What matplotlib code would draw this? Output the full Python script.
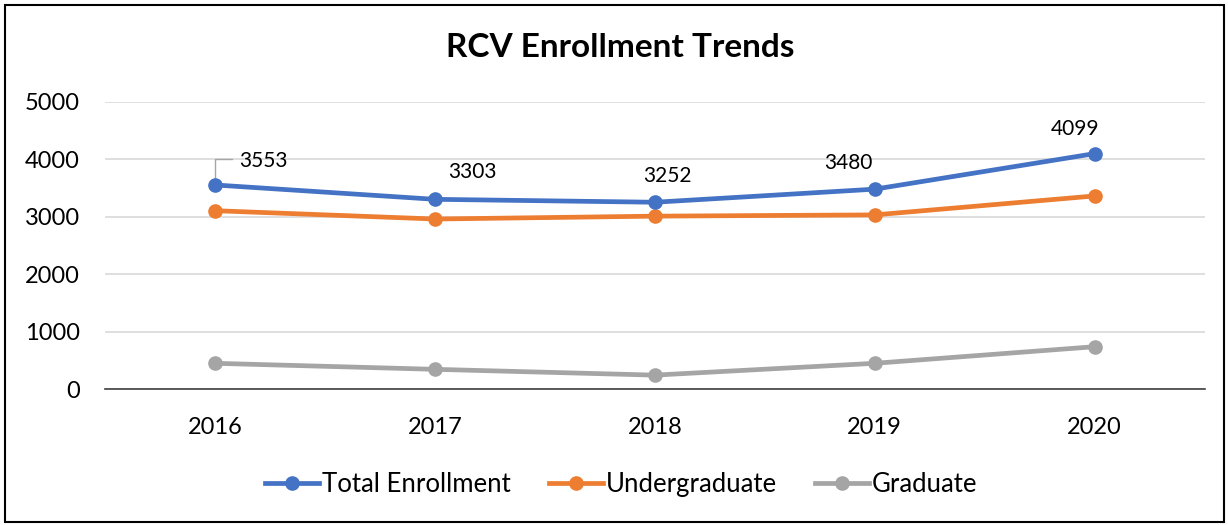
import matplotlib.pyplot as plt
from matplotlib.patches import Rectangle

# data
years = ["2016", "2017", "2018", "2019", "2020"]
total = [3553, 3303, 3252, 3480, 4099]
undergrad = [3105, 2960, 3010, 3032, 3362]
graduate = [448, 343, 242, 448, 737]

# label offsets (points) for the total enrollment labels
label_dx = [35, 27, 9, -19, -14]
label_dy = [17, 20, 19, 19, 18]

plt.rcParams['font.family'] = ['Lato', 'DejaVu Sans']

fig = plt.figure(figsize=(12.28, 5.25), dpi=100)
ax = fig.add_axes([0.0855, 0.259, 0.8955, 0.547])

x = range(len(years))
ax.plot(x, total, color='#4472C4', lw=3.4, marker='o', ms=9.5, label='Total Enrollment', zorder=4)
ax.plot(x, undergrad, color='#ED7D31', lw=3.4, marker='o', ms=9.5, label='Undergraduate', zorder=3)
ax.plot(x, graduate, color='#A5A5A5', lw=3.4, marker='o', ms=9.5, label='Graduate', zorder=3)

for i, v in enumerate(total):
    ax.annotate(str(v), (i, v), xytext=(label_dx[i], label_dy[i]), textcoords='offset points',
                ha='center', va='center', fontsize=15)
# leader line for the first label
ax.annotate('', (0, total[0]), xytext=(14, 19), textcoords='offset points',
            arrowprops=dict(arrowstyle='-', color='#A5A5A5', lw=1,
                            connectionstyle='angle,angleA=0,angleB=90,rad=0'))

ax.set_xlim(-0.5, 4.5)
ax.set_ylim(0, 5000)
ax.set_yticks(range(0, 5001, 1000))
ax.set_xticks(list(x))
ax.set_xticklabels(years)
ax.tick_params(axis='both', length=0, labelsize=17)
ax.tick_params(axis='x', pad=20)
ax.tick_params(axis='y', pad=18)
ax.grid(axis='y', color='#D9D9D9', lw=1.2)
ax.set_axisbelow(True)
for s in ['left', 'right', 'top']:
    ax.spines[s].set_visible(False)
ax.spines['bottom'].set_color('#404040')
ax.spines['bottom'].set_linewidth(1.2)

fig.text(0.505, 0.91, 'RCV Enrollment Trends', ha='center', va='center',
         fontsize=24, fontweight='bold')

fig.legend(loc='center', bbox_to_anchor=(0.506, 0.078), ncol=3, frameon=False,
           fontsize=18.5, handlelength=2.1, handletextpad=0.1, columnspacing=1.5)

fig.add_artist(Rectangle((0.004, 0.006), 0.993, 0.984, transform=fig.transFigure,
                         fill=False, edgecolor='black', lw=1.5))

fig.savefig('out.png', dpi=100)
